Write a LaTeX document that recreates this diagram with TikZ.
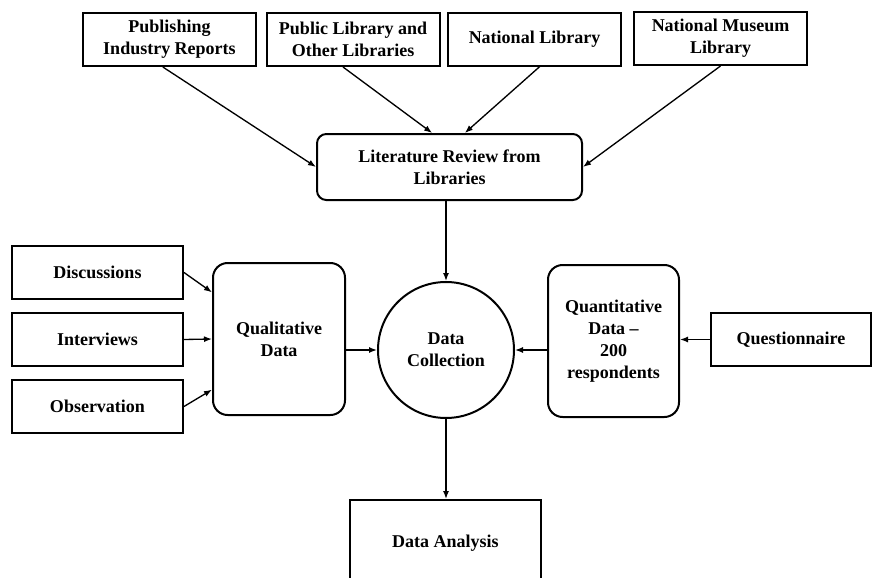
\documentclass[tikz,border=0pt]{standalone}
\usepackage{fontspec}
\setmainfont{Liberation Serif}
\usetikzlibrary{arrows.meta}

\begin{document}
\begin{tikzpicture}[x=0.75pt,y=-0.75pt,
        box/.style={draw,line width=1.5pt,inner sep=2pt,align=center,
            font=\bfseries\fontsize{13.5}{16.5}\selectfont},
        srcbox/.style={box,minimum width=129.75pt,minimum height=39.75pt},
        sidebox/.style={box,minimum width=128.25pt,minimum height=39.75pt},
        arr/.style={-{Latex[length=6pt,width=4.5pt]},line width=1pt}]
        \useasboundingbox (0,0) rectangle (872,578);

        % Sources at the top
        \node[srcbox] (pub) at (169.5,39.5) {Publishing\\Industry Reports};
        \node[srcbox] (publib) at (353,39.5) {Public Library and\\Other Libraries};
        \node[srcbox] (natlib) at (534.5,39) {National Library};
        \node[srcbox] (museum) at (720.5,38.5) {National Museum\\Library};

        % Literature review
        \node[box,rounded corners=7pt,minimum width=198.75pt,minimum height=49.5pt] (lit) at (449.5,167) {Literature Review from\\Libraries};

        % Centre and data boxes
        \node[box,circle,minimum size=102pt,inner sep=0pt] (coll) at (446,350) {Data\\Collection};
        \node[box,rounded corners=11pt,minimum width=99pt,minimum height=114pt] (qual) at (279,339) {Qualitative\\Data};
        \node[box,rounded corners=11pt,minimum width=98.25pt,minimum height=114pt] (quant) at (613.5,341) {Quantitative\\Data --\\200\\respondents};

        % Methods
        \node[sidebox] (disc) at (97.5,272.5) {Discussions};
        \node[sidebox] (interv) at (97.5,339.5) {Interviews};
        \node[sidebox] (obs) at (97.5,406.5) {Observation};
        \node[box,minimum width=120pt,minimum height=39.75pt] (quest) at (791,339.5) {Questionnaire};

        % Analysis (runs off the bottom)
        \node[box,minimum width=143.25pt,minimum height=64.5pt] (anal) at (445.5,543) {Data Analysis};

        % Arrows
        \draw[arr] ([xshift=-5pt]pub.south) -- (lit.west);
        \draw[arr] ([xshift=-7.5pt]publib.south) -- ([xshift=-13pt]lit.north);
        \draw[arr] ([xshift=4pt]natlib.south) -- ([xshift=11.5pt]lit.north);
        \draw[arr] (museum.south) -- (lit.east);
        \draw[arr] (coll.north |- lit.south) -- (coll.north);
        \draw[arr] (disc.east) -- ([yshift=35pt]qual.west);
        \draw[arr] (interv.east) -- (qual.west);
        \draw[arr] (obs.east) -- ([yshift=-38pt]qual.west);
        \draw[arr] (qual.east |- coll.west) -- (coll.west);
        \draw[arr] (quest.west) -- (quest.west -| quant.east);
        \draw[arr] (quant.west |- coll.east) -- (coll.east);
        \draw[arr] (coll.south) -- (coll.south |- anal.north);

    \end{tikzpicture}
\end{document}
